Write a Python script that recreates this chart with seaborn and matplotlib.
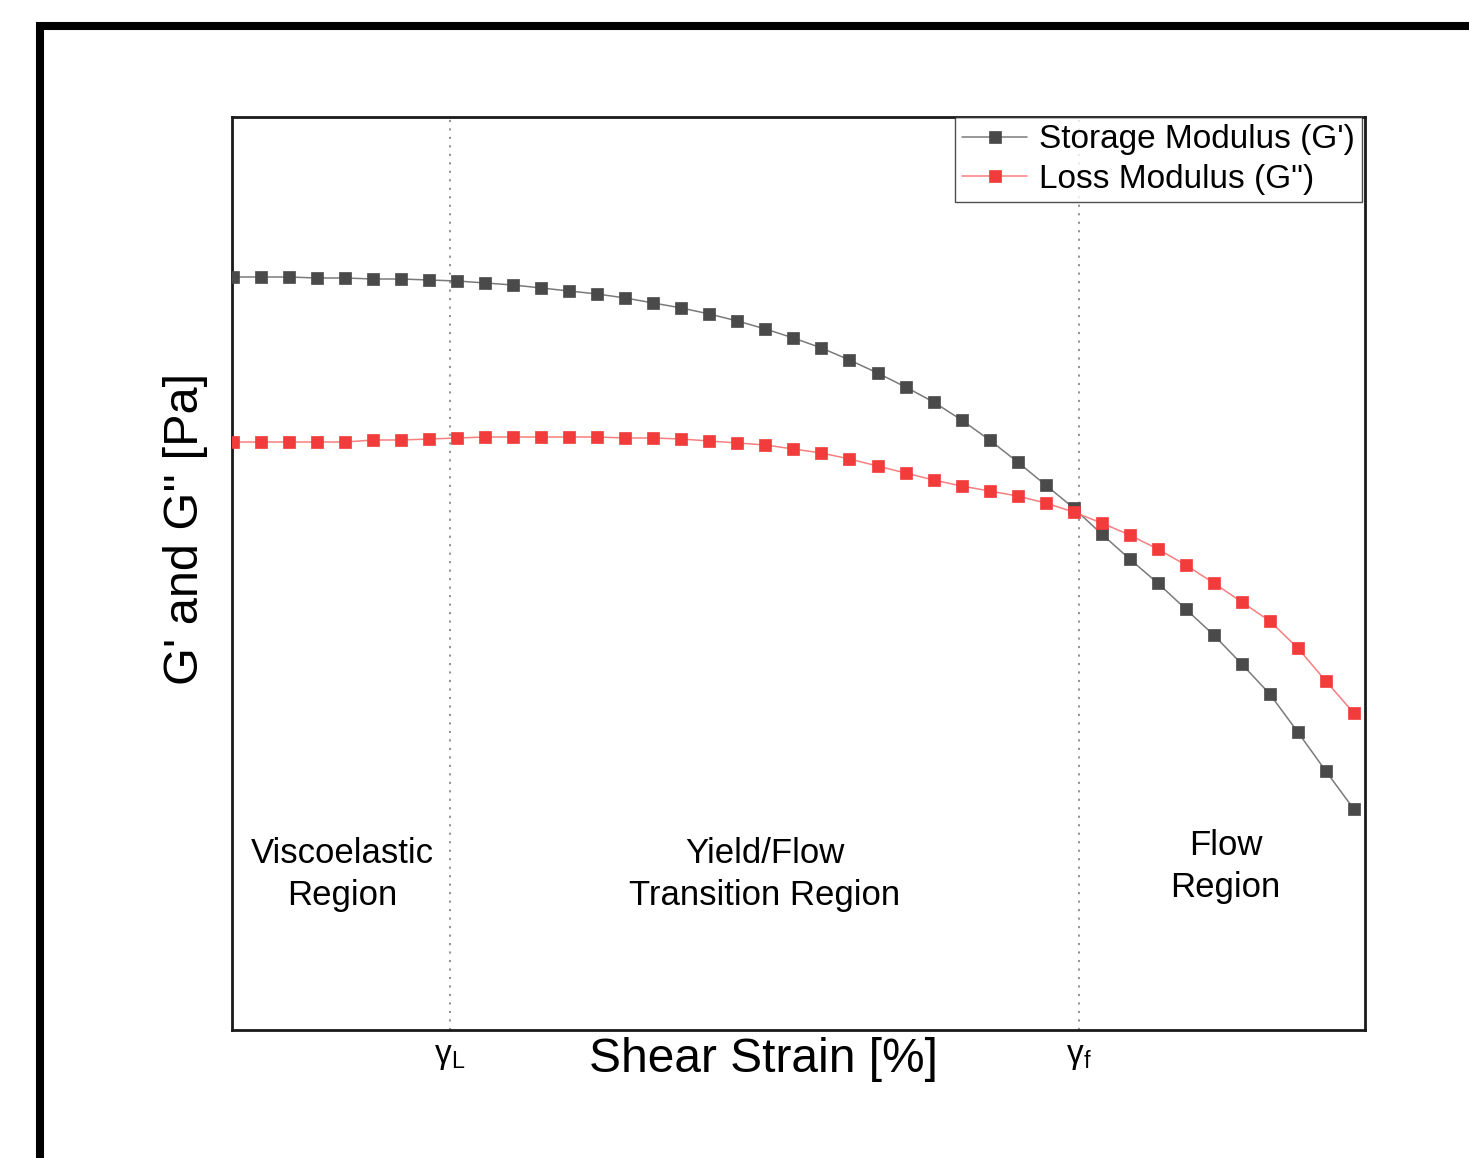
import numpy as np
import pandas as pd
import matplotlib
matplotlib.use("Agg")
import matplotlib.pyplot as plt
from matplotlib.lines import Line2D
import seaborn as sns

# ---- data (arbitrary units) ----
strain_index = list(range(41))
storage_modulus = [753, 753, 753, 752, 752, 751, 751, 750, 749, 747, 745, 742, 739, 736, 732,
                   727, 722, 716, 709, 701, 692, 682, 670, 657, 643, 628, 610, 590, 568, 545,
                   522, 496, 471, 447, 421, 395, 366, 336, 298, 259, 221]
loss_modulus = [588, 588, 588, 588, 588, 590, 590, 591, 592, 593, 593, 593, 593, 593, 592,
                592, 591, 589, 587, 585, 581, 577, 571, 564, 557, 550, 544, 539, 534, 527,
                518, 507, 495, 481, 465, 447, 428, 409, 382, 349, 317]
series_names = ["Storage Modulus (G')", 'Loss Modulus (G")']
gamma_positions = [7.74, 30.2]
gamma_labels = [r"$\mathregular{γ_L}$", r"$\mathregular{γ_f}$"]
region_labels = ["Viscoelastic\nRegion", "Yield/Flow\nTransition Region", "Flow\nRegion"]

sns.set_style("white")
plt.rcParams["font.family"] = ["Liberation Sans", "DejaVu Sans"]
plt.rcParams["mathtext.fontset"] = "custom"
plt.rcParams["mathtext.rm"] = "Liberation Sans"
plt.rcParams["text.color"] = "black"
plt.rcParams["xtick.color"] = "black"
plt.rcParams["axes.labelcolor"] = "black"

df = pd.DataFrame({
    "strain": strain_index * 2,
    "modulus": storage_modulus + loss_modulus,
    "series": [series_names[0]] * 41 + [series_names[1]] * 41,
})

fig = plt.figure(figsize=(14.69, 11.58), dpi=100)
ax = fig.add_axes([232 / 1469, 1 - 1030 / 1158, (1365 - 232) / 1469, (1030 - 117) / 1158])

line_colors = {series_names[0]: "#7a7a7a", series_names[1]: "#f77f7f"}
marker_colors = {series_names[0]: "#4a4a4a", series_names[1]: "#f23c3c"}

for name in series_names:
    sub = df[df["series"] == name]
    sns.lineplot(data=sub, x="strain", y="modulus", ax=ax, color=line_colors[name],
                 linewidth=1.1, marker="s", markersize=8.5,
                 markerfacecolor=marker_colors[name], markeredgecolor=marker_colors[name],
                 markeredgewidth=0.5, label=name, zorder=3)

for gp in gamma_positions:
    ax.axvline(gp, color="#8a8a8a", linestyle=(0, (1.2, 3.5)), linewidth=1.3, zorder=1)

ax.set_xlim(-0.04, 40.4)
ax.set_ylim(0, 913)
ax.set_xticks(gamma_positions)
ax.set_xticklabels(gamma_labels, fontsize=24, color="black")
ax.set_yticks([])
ax.tick_params(axis="x", direction="in", length=5, width=1, color="#888888", pad=8)
ax.set_xlabel("")
ax.set_ylabel("")
for s in ax.spines.values():
    s.set_color("#1a1a1a")
    s.set_linewidth(2.0)

leg = ax.legend(loc="upper right", bbox_to_anchor=(0.9975, 1.0), borderaxespad=0.0,
                fontsize=24, frameon=True, fancybox=False, edgecolor="#222222",
                handlelength=1.95, handletextpad=0.35, labelspacing=0.25, borderpad=0.22)
leg.get_frame().set_linewidth(1.0)
leg.set_zorder(5)
for t in leg.get_texts():
    t.set_color("black")

txt_kw = dict(fontsize=25, ha="center", va="center", transform=ax.transAxes,
              linespacing=1.35, color="black")
ax.text(0.097, 0.170, region_labels[0], **txt_kw)
ax.text(0.470, 0.170, region_labels[1], **txt_kw)
ax.text(0.877, 0.179, region_labels[2], **txt_kw)

fig.text(763 / 1469, 1 - 1060 / 1158, "Shear Strain [%]", fontsize=34.5, ha="center",
         va="center", color="black")
fig.text(185 / 1469, 1 - 529 / 1158, "G' and G'' [Pa]", fontsize=35, ha="center", va="center",
         rotation=90, color="black")

# outer frame (partial border)
fig.add_artist(Line2D([40 / 1469, 40 / 1469], [0, 1 - 22 / 1158], transform=fig.transFigure,
                      color="black", linewidth=5.8, solid_capstyle="butt"))
fig.add_artist(Line2D([36 / 1469, 1.0], [1 - 26 / 1158, 1 - 26 / 1158], transform=fig.transFigure,
                      color="black", linewidth=5.8, solid_capstyle="butt"))

fig.savefig("out.png", dpi=100)
